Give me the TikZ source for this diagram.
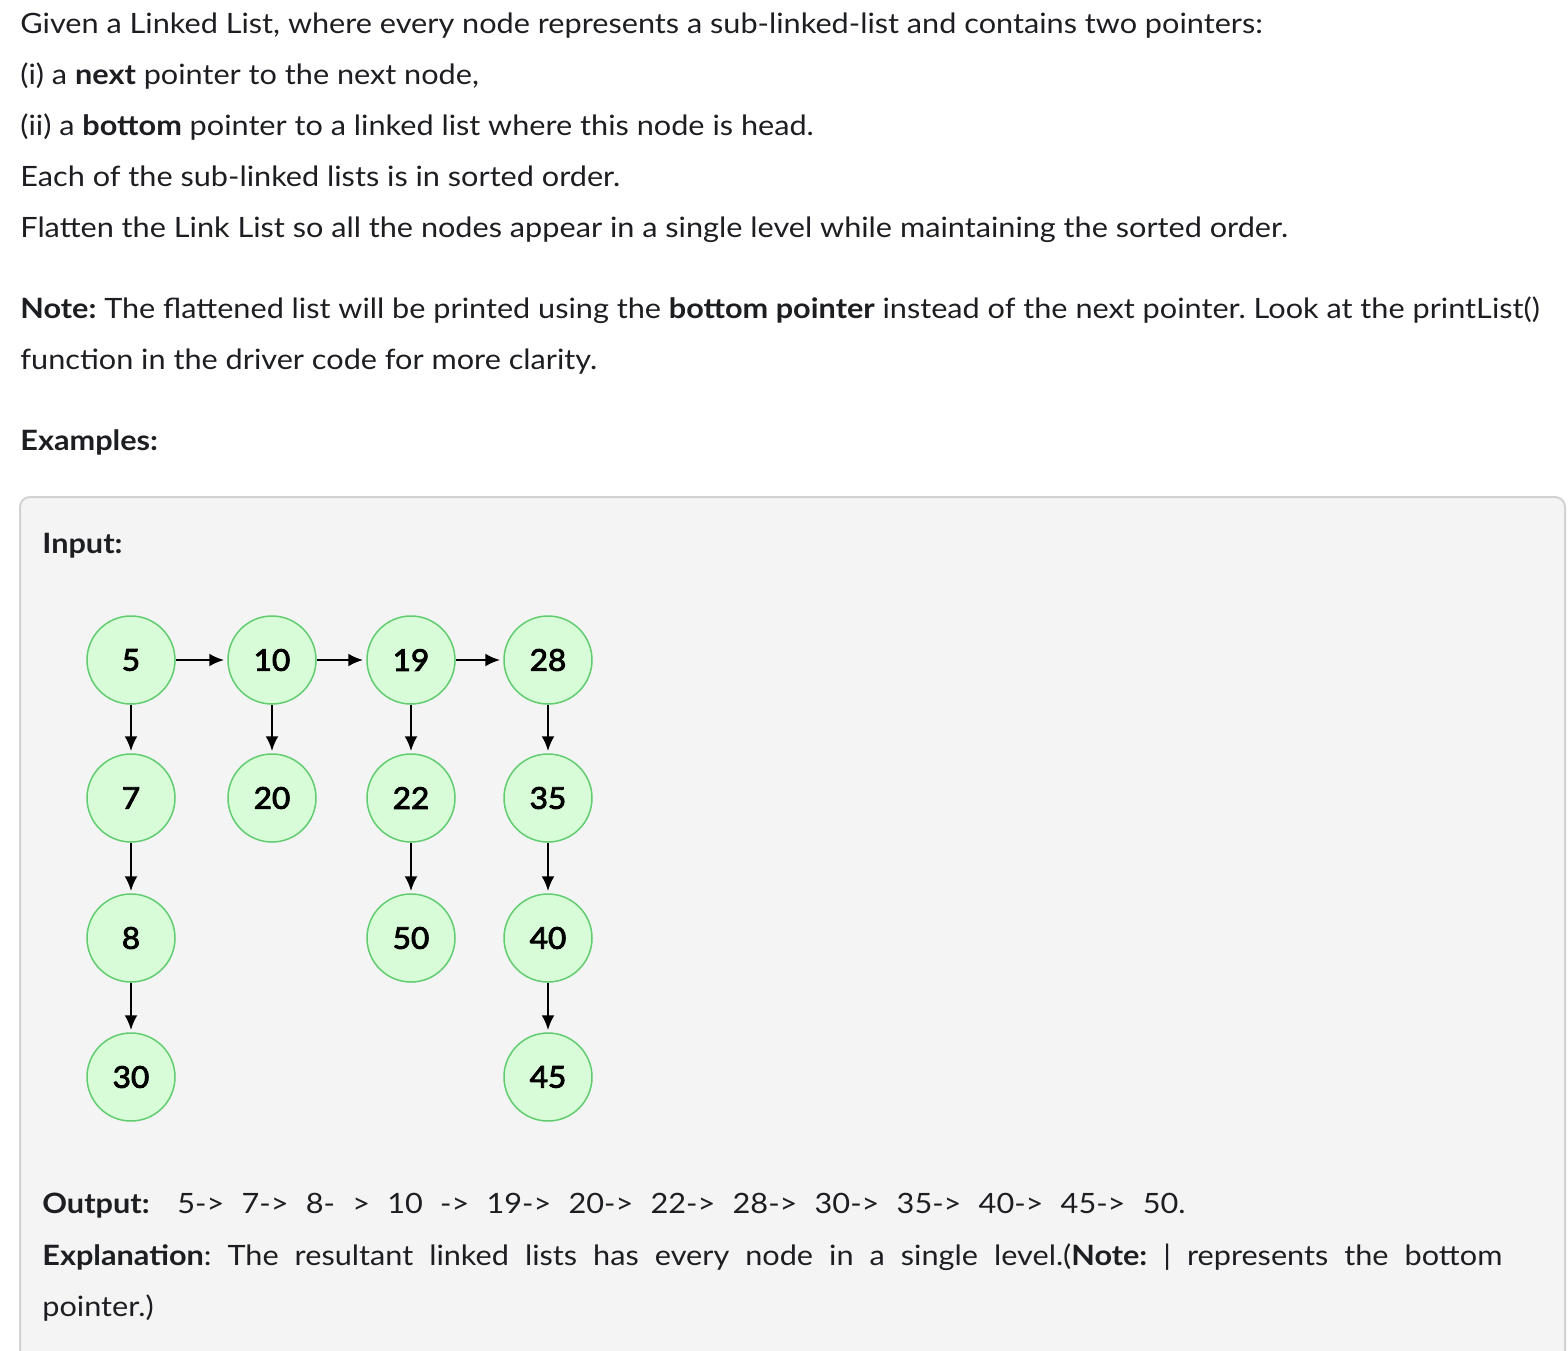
\documentclass[tikz,border=0pt]{standalone}
\usepackage{fontspec}
\setmainfont{Lato}[FakeStretch=1.095]
\newfontfamily\numfont{Lato}[FakeBold=3, FakeStretch=1.05]
\usetikzlibrary{arrows.meta}
\definecolor{pagetext}{HTML}{1C1E21}
\definecolor{boxfill}{HTML}{F4F4F4}
\definecolor{boxline}{HTML}{D2D2D5}
\definecolor{nodefill}{HTML}{D7FCD7}
\definecolor{nodeline}{HTML}{62CD70}
\tikzset{
  line/.style={anchor=base west, inner sep=0pt, text=pagetext, font=\frenchspacing\fontsize{14pt}{17pt}\selectfont},
  elem/.style={circle, draw=nodeline, fill=nodefill, line width=0.75pt, minimum size=44pt, inner sep=0pt, text=black, font=\numfont\fontsize{15pt}{18pt}\selectfont},
  ptr/.style={->, >={Latex[length=7.5pt,width=6.5pt]}, line width=1.3pt, black}
}
\begin{document}
\begin{tikzpicture}[x=0.5pt,y=-0.5pt]
  \useasboundingbox (0,0) rectangle (1568,1350);
  \fill[white] (0,0) rectangle (1568,1350);
  \begin{scope}
    \clip (0,0) rectangle (1568,1350);
    \draw[boxline, fill=boxfill, line width=1pt, rounded corners=5pt] (20,497) rectangle (1565,1380);
  \end{scope}

  % problem statement
  \node[line] (t1) at (20,33) {Given a Linked List, where every node represents a sub-linked-list and contains two pointers:};
  \node[line] (t2) at (20,84) {(i) a \textbf{next} pointer to the next node,};
  \node[line] (t3) at (20,135) {(ii) a \textbf{bottom} pointer to a linked list where this node is head.};
  \node[line] (t4) at (20,186) {Each of the sub-linked lists is in sorted order.};
  \node[line] (t5) at (20,237) {Flatten the Link List so all the nodes appear in a single level while maintaining the sorted order.};
  \node[line] (n1) at (20,318) {\textbf{Note:} The flattened list will be printed using the \textbf{bottom pointer} instead of the next pointer. Look at the printList()};
  \node[line] (n2) at (20,369) {function in the driver code for more clarity.};
  \node[line] (ex) at (20,450) {\textbf{Examples:}};

  % example box
  \node[line] (in) at (42,553) {\textbf{Input:}};

  \node[elem] (5) at (131,660) {5};
  \node[elem] (7) at (131,798) {7};
  \node[elem] (8) at (131,938) {8};
  \node[elem] (30) at (131,1077) {30};
  \node[elem] (10) at (272,660) {10};
  \node[elem] (20) at (272,798) {20};
  \node[elem] (19) at (411,660) {19};
  \node[elem] (22) at (411,798) {22};
  \node[elem] (50) at (411,938) {50};
  \node[elem] (28) at (548,660) {28};
  \node[elem] (35) at (548,798) {35};
  \node[elem] (40) at (548,938) {40};
  \node[elem] (45) at (548,1077) {45};

  \draw[ptr, shorten >=1.5pt] (5) edge (10) (10) edge (19) (19) edge (28);
  \draw[ptr, shorten >=1pt] (5) edge (7) (7) edge (8) (8) edge (30);
  \draw[ptr, shorten >=1pt] (10) edge (20);
  \draw[ptr, shorten >=1pt] (19) edge (22) (22) edge (50);
  \draw[ptr, shorten >=1pt] (28) edge (35) (35) edge (40) (40) edge (45);

  \node[line] (out) at (42,1213) {\textbf{Output:}};
  \node[line] (res) at (177,1213) {\makebox[504pt][s]{5-> 7-> 8- > 10 -> 19-> 20-> 22-> 28-> 30-> 35-> 40-> 45-> 50.}};
  \node[line] (exp) at (42,1265) {\makebox[730pt][s]{\textbf{Explanation}: The resultant linked lists has every node in a single level.(\textbf{Note:} | represents the bottom}};
  \node[line] (exp2) at (42,1316) {pointer.)};
\end{tikzpicture}
\end{document}
